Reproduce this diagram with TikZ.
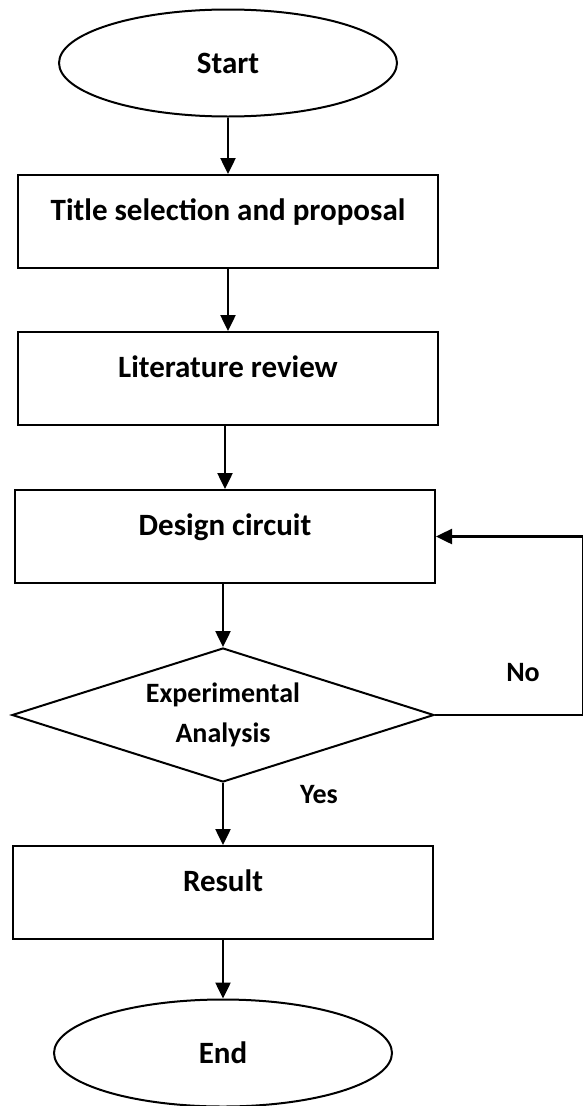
\documentclass[tikz,border=0pt]{standalone}
\usepackage{fontspec}
\setmainfont{Carlito}
\usetikzlibrary{arrows.meta,shapes.geometric,positioning}
\tikzset{
  box/.style={draw, line width=2pt, minimum width=420pt, inner ysep=0pt,
    text height=45pt, text depth=48pt, font=\bfseries\fontsize{31}{36}\selectfont},
  term/.style={draw, ellipse, line width=2pt, minimum width=338pt,
    minimum height=107pt, inner sep=0pt, font=\bfseries\fontsize{31}{36}\selectfont},
  decision/.style={draw, diamond, line width=2pt, minimum width=422pt,
    minimum height=134pt, aspect=3.15, inner sep=0pt, align=center,
    font=\bfseries\fontsize{28}{40}\selectfont},
  flow/.style={line width=2.5pt, -{Triangle[length=16pt,width=15pt]}},
  tag/.style={font=\bfseries\fontsize{28}{32}\selectfont},
}
\begin{document}
\begin{tikzpicture}[x=1pt,y=-1pt]
    \useasboundingbox (0,0) rectangle (583,1106);

    % Place the steps of the chart
    \node[term] (start) at (228,63) {Start};
    \node[box] (title) at (228,221.5) {Title selection and proposal};
    \node[box] (review) at (228,378.5) {Literature review};
    \node[box] (design) at (225,536.5) {Design circuit};
    \node[decision] (test) at (223,715) {Experimental\\Analysis};
    \node[box] (result) at (223,892.5) {Result};
    \node[term] (end) at (223,1053) {End};

    % Corners of the way back
    \coordinate (back low) at (583,715);
    \coordinate (back high) at (583,536.5);

    % Draw the arrows
    \draw[flow] (start) -- (title);
    \draw[flow] (title) -- (review);
    \draw[flow] (review.south -| design.north) -- (design.north);
    \draw[flow] (design.south -| test.north) -- (test.north);
    \draw[flow] (test) -- (result);
    \draw[flow] (result) -- (end);
    \draw[flow] (test.east) -- (back low) -- (back high) -- (design.east);

    % Label the answers
    \node[tag] (no) at (523,673) {No};
    \node[tag] (yes) at (319,795) {Yes};
  \end{tikzpicture}
\end{document}
